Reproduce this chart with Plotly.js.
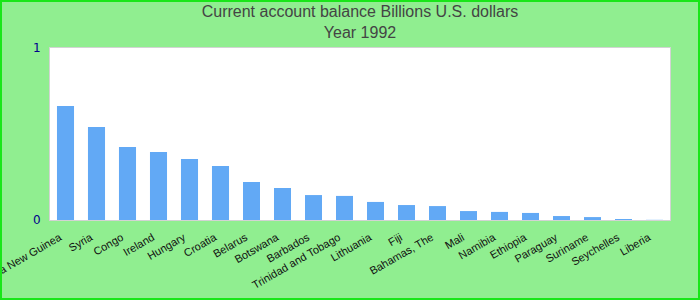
<!DOCTYPE html>
<html>
<head>
<meta charset="utf-8">
<script src="https://cdn.plot.ly/plotly-3.0.1.min.js"></script>
<style>
  html, body { margin: 0; padding: 0; background: #90ee90; }
  #wrap { position: relative; width: 700px; height: 300px; }
  #chart { width: 700px; height: 300px; }
  #frame { position: absolute; left: 0; top: 0; width: 700px; height: 300px; box-sizing: border-box; border: 2px solid #19e619; pointer-events: none; }
</style>
</head>
<body>
<div id="wrap">
  <div id="chart"></div>
  <div id="frame"></div>
</div>
<script>
const countries = ["Papua New Guinea", "Syria", "Congo", "Ireland", "Hungary", "Croatia", "Belarus", "Botswana", "Barbados", "Trinidad and Tobago", "Lithuania", "Fiji", "Bahamas, The", "Mali", "Namibia", "Ethiopia", "Paraguay", "Suriname", "Seychelles", "Liberia"];
const balance = [0.663, 0.541, 0.424, 0.395, 0.355, 0.314, 0.221, 0.186, 0.145, 0.140, 0.105, 0.087, 0.081, 0.052, 0.047, 0.041, 0.023, 0.017, 0.006, 0.001];
const yTicks = [0, 1];
const titleText = "Current account balance Billions U.S. dollars<br>Year 1992";

const trace = {
  type: "bar",
  x: countries,
  y: balance,
  marker: { color: "#62a9f5" },
  width: 0.55,
  hoverinfo: "x+y"
};

const layout = {
  width: 700,
  height: 300,
  paper_bgcolor: "#90ee90",
  plot_bgcolor: "#ffffff",
  margin: { l: 50, r: 30, t: 48, b: 80, pad: 0 },
  showlegend: false,
  title: {
    text: titleText,
    font: { family: "Liberation Sans, Arial, sans-serif", size: 16, color: "#444444" },
    x: 0.5,
    xref: "paper",
    xanchor: "center",
    yref: "container",
    y: 0.942,
    yanchor: "top"
  },
  xaxis: {
    type: "category",
    range: [-0.5, 19.5],
    tickangle: -30,
    tickfont: { family: "Liberation Sans, Arial, sans-serif", size: 11, color: "#111111" },
    ticklabelstandoff: 6,
    ticklabelshift: -6,
    showgrid: false,
    showline: true,
    mirror: true,
    linecolor: "#d3d3d3",
    linewidth: 1,
    ticks: "",
    automargin: false
  },
  yaxis: {
    range: [0, 1],
    tickvals: yTicks,
    ticktext: yTicks.map(String),
    tickfont: { family: "DejaVu Sans, sans-serif", size: 12, color: "#00008b" },
    showgrid: false,
    zeroline: false,
    showline: true,
    mirror: true,
    linecolor: "#d3d3d3",
    linewidth: 1,
    ticks: "outside",
    ticklen: 6,
    tickcolor: "rgba(0,0,0,0)",
    automargin: false
  }
};

Plotly.newPlot("chart", [trace], layout, { displayModeBar: false, staticPlot: true });
</script>
</body>
</html>
